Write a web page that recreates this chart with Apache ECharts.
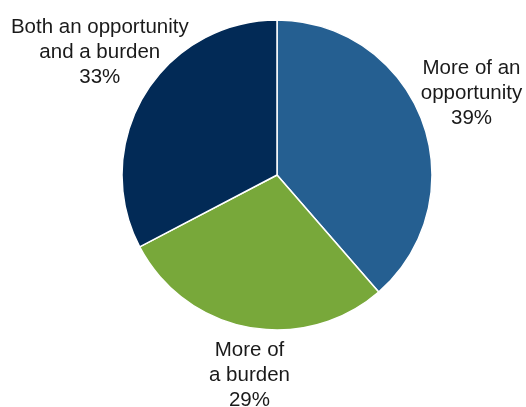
<!DOCTYPE html>
<html>
<head>
<meta charset="utf-8">
<style>
  html, body { margin: 0; padding: 0; background: #ffffff; }
  #chart { width: 526px; height: 407px; }
</style>
<script src="https://cdn.jsdelivr.net/npm/echarts@6/dist/echarts.min.js"></script>
</head>
<body>
<div id="chart"></div>
<script>
// Survey answers, clockwise from 12 o'clock
const categories = ['More of an\nopportunity', 'More of\na burden', 'Both an opportunity\nand a burden'];
const shares = [39, 29, 33];
const sliceColors = ['#255f91', '#78a83a', '#022a56'];

const chart = echarts.init(document.getElementById('chart'), null, { renderer: 'canvas' });

const pieCenter = [277, 175];
const pieRadius = 155;

// small per-label nudges so the text blocks sit clear of the pie
const labelOffsets = [[-5, -7], [12, -9], [5, -12]];

const sliceData = categories.map((name, i) => ({
  name: name,
  value: shares[i],
  itemStyle: { color: sliceColors[i] }
}));

// a transparent, wider ring carries the centred labels outside the pie
const labelData = categories.map((name, i) => ({
  name: name,
  value: shares[i],
  label: { offset: labelOffsets[i] }
}));

chart.setOption({
  animation: false,
  series: [
    {
      type: 'pie',
      center: pieCenter,
      radius: [0, pieRadius],
      startAngle: 90,
      clockwise: true,
      silent: true,
      data: sliceData,
      itemStyle: { borderColor: '#ffffff', borderWidth: 1.5 },
      label: { show: false },
      labelLine: { show: false },
      emphasis: { disabled: true }
    },
    {
      type: 'pie',
      center: pieCenter,
      radius: [0, 420],
      startAngle: 90,
      clockwise: true,
      silent: true,
      z: 3,
      data: labelData,
      itemStyle: { color: 'rgba(0,0,0,0)', borderWidth: 0 },
      label: {
        show: true,
        position: 'inside',
        formatter: (p) => p.name + '\n' + p.value + '%',
        fontFamily: '"Liberation Sans", Arial, Helvetica, sans-serif',
        fontSize: 20.5,
        lineHeight: 25,
        color: '#1a1a1a',
        align: 'center',
        verticalAlign: 'middle'
      },
      labelLine: { show: false },
      emphasis: { disabled: true }
    }
  ]
});
</script>
</body>
</html>
